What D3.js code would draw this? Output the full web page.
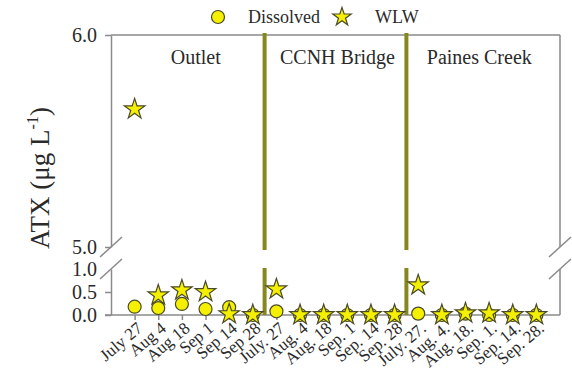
<!DOCTYPE html>
<html>
<head>
<meta charset="utf-8">
<script src="https://cdn.jsdelivr.net/npm/d3@7"></script>
<style>
  body { margin: 0; background: #fff; }
  svg, svg text { font-family: 'Liberation Serif', 'Times New Roman', serif; }
  svg { display: block; }
</style>
</head>
<body>
<svg id="chart" width="572" height="376"></svg>
<script>
// Sampling dates, grouped by site (6 dates per site)
const dates = [
  "July 27", "Aug 4", "Aug 18", "Sep 1", "Sep 14", "Sep 28",
  "July. 27", "Aug. 4", "Aug. 18", "Sep. 1", "Sep. 14", "Sep. 28",
  "July. 27.", "Aug. 4.", "Aug. 18.", "Sep. 1.", "Sep. 14.", "Sep. 28."
];
const sites = ["Outlet", "CCNH Bridge", "Paines Creek"];
// ATX concentrations (µg L-1)
const dissolved = [0.18, 0.15, 0.24, 0.13, 0.17, 0, 0.08, 0, 0, 0, 0, 0, 0.03, 0, 0.03, 0, 0, 0];
const wlw = [5.65, 0.43, 0.54, 0.5, 0.02, 0, 0.56, 0, 0, 0, 0, 0, 0.65, 0, 0.04, 0.04, 0, 0];
const upperTicks = [5.0, 6.0];
const lowerTicks = [0.0, 0.5, 1.0];

const svg = d3.select("#chart");
const serif = "'Liberation Serif', 'Times New Roman', serif";
const plotLeft = 111, plotRight = 560, plotTop = 35;
const axisColor = "#8a8a8a", textColor = "#2a2a2a", dividerColor = "#87871f";

const x = d3.scalePoint().domain(d3.range(dates.length)).range([plotLeft, plotRight]).padding(1);
const yTop = d3.scaleLinear().domain([5, 6]).range([247, plotTop]);
const yBot = d3.scaleLinear().domain([0, 1]).range([315, 269]);
const yOf = v => v >= 5 ? yTop(v) : yBot(v);

function styleAxis(g) {
  g.attr("font-family", serif);
  g.selectAll("path, line").attr("stroke", axisColor).attr("stroke-width", 1.5);
  g.selectAll("text").attr("fill", textColor).attr("font-family", serif);
}

// Y axes (broken)
svg.append("g").attr("transform", `translate(${plotLeft},0)`)
  .call(d3.axisLeft(yTop).tickValues(upperTicks).tickFormat(d3.format(".1f")).tickSize(6).tickSizeOuter(0).tickPadding(8))
  .call(g => g.selectAll("text").attr("font-size", 20))
  .call(styleAxis);
svg.append("g").attr("transform", `translate(${plotLeft},0)`)
  .call(d3.axisLeft(yBot).tickValues(lowerTicks).tickFormat(d3.format(".1f")).tickSize(6).tickSizeOuter(0).tickPadding(8))
  .call(g => g.selectAll("text").attr("font-size", 20))
  .call(g => g.selectAll(".tick").filter(d => d === 1.0).select("line").remove())
  .call(styleAxis);

// Frame: top and right edges
svg.append("line").attr("x1", plotLeft).attr("x2", plotRight).attr("y1", plotTop).attr("y2", plotTop)
  .attr("stroke", axisColor).attr("stroke-width", 1.5);
svg.append("line").attr("x1", plotRight).attr("x2", plotRight).attr("y1", plotTop).attr("y2", yTop(5))
  .attr("stroke", axisColor).attr("stroke-width", 1.5);
svg.append("line").attr("x1", plotRight).attr("x2", plotRight).attr("y1", yBot(1)).attr("y2", yBot(0))
  .attr("stroke", axisColor).attr("stroke-width", 1.5);

// X axis at zero
svg.append("g").attr("transform", `translate(0,${yBot(0)})`)
  .call(d3.axisBottom(x).tickFormat("").tickSize(5).tickSizeOuter(0))
  .call(g => g.select(".domain").attr("d", `M${plotLeft - 6},0H${plotRight}`))
  .call(styleAxis);

// Date labels
svg.append("g").selectAll("text").data(dates).join("text")
  .attr("transform", (d, i) => `translate(${x(i) + 9},${yBot(0) + 15}) rotate(-40)`)
  .attr("text-anchor", "end")
  .attr("font-family", serif)
  .attr("font-size", 17)
  .attr("fill", textColor)
  .text(d => d);

// Axis break marks
[plotLeft, plotRight].forEach(bx => {
  [yTop(5), yBot(1)].forEach(by => {
    svg.append("line")
      .attr("x1", bx - 11).attr("y1", by + 10).attr("x2", bx + 11).attr("y2", by - 10)
      .attr("stroke", axisColor).attr("stroke-width", 1.5);
  });
});

// Site dividers
const dividerX = [[5, 6], [11, 12]].map(([a, b]) => (x(a) + x(b)) / 2);
dividerX.forEach(dx => {
  svg.append("line").attr("x1", dx).attr("x2", dx).attr("y1", plotTop - 2).attr("y2", yTop(5) + 3)
    .attr("stroke", dividerColor).attr("stroke-width", 4);
  svg.append("line").attr("x1", dx).attr("x2", dx).attr("y1", yBot(1) - 1).attr("y2", yBot(0))
    .attr("stroke", dividerColor).attr("stroke-width", 4);
});

// Site names
const siteCenters = [
  (x(0) + x(5)) / 2 + 2,
  (x(6) + x(11)) / 2 + 2,
  (x(12) + x(17)) / 2 + 2
];
svg.append("g").selectAll("text").data(sites).join("text")
  .attr("x", (d, i) => siteCenters[i])
  .attr("y", 64)
  .attr("text-anchor", "middle")
  .attr("font-family", serif)
  .attr("font-size", 20)
  .attr("fill", textColor)
  .text(d => d);

// Y title
svg.append("text")
  .attr("transform", "translate(49,178) rotate(-90)")
  .attr("text-anchor", "middle")
  .attr("font-family", serif)
  .attr("font-size", 27)
  .attr("fill", textColor)
  .call(t => {
    t.append("tspan").text("ATX (μg L");
    t.append("tspan").attr("font-size", 16).attr("dy", -11).text("-1");
    t.append("tspan").attr("dy", 11).text(")");
  });

// Markers
const star = d3.symbol().type(d3.symbolStar).size(130);
const legendStar = d3.symbol().type(d3.symbolStar).size(105);
const markerFill = "#f4f000", markerStroke = "#4a4a2a";

svg.append("g").selectAll("circle").data(dissolved).join("circle")
  .attr("cx", (d, i) => x(i))
  .attr("cy", d => yOf(d))
  .attr("r", 6.5)
  .attr("fill", markerFill)
  .attr("stroke", markerStroke)
  .attr("stroke-width", 1.2);

svg.append("g").selectAll("path").data(wlw).join("path")
  .attr("transform", (d, i) => `translate(${x(i)},${yOf(d)})`)
  .attr("d", star)
  .attr("fill", markerFill)
  .attr("stroke", markerStroke)
  .attr("stroke-width", 1.2);

// Legend
const legend = svg.append("g").attr("font-family", serif);
legend.append("circle").attr("cx", 218).attr("cy", 17).attr("r", 6.5)
  .attr("fill", markerFill).attr("stroke", markerStroke).attr("stroke-width", 1.2);
legend.append("text").attr("x", 248).attr("y", 23).attr("font-size", 18).attr("fill", textColor).text("Dissolved");
legend.append("path").attr("transform", "translate(342,17)").attr("d", legendStar)
  .attr("fill", markerFill).attr("stroke", markerStroke).attr("stroke-width", 1.2);
legend.append("text").attr("x", 375).attr("y", 23).attr("font-size", 18).attr("fill", textColor).text("WLW");
</script>
</body>
</html>
